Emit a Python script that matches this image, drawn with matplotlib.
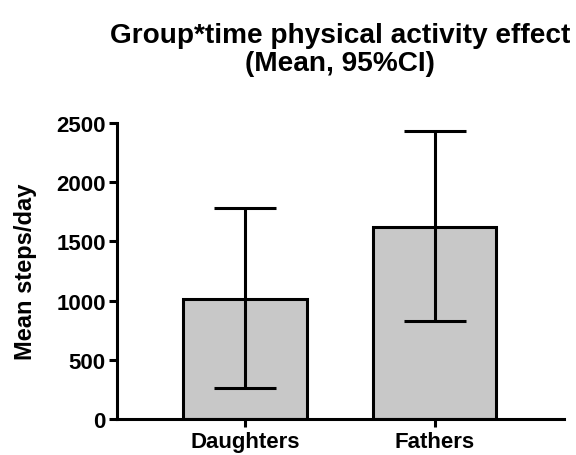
import matplotlib
matplotlib.use("Agg")
import matplotlib.pyplot as plt

# ============================================
# Data (mean and 95% CI bounds)
# ============================================

groups = ["Daughters", "Fathers"]
means = [1015, 1625]
ci_lower = [258, 825]
ci_upper = [1782, 2435]

yticks = [0, 500, 1000, 1500, 2000, 2500]

plt.rcParams["font.family"] = ["Liberation Sans", "DejaVu Sans"]
plt.rcParams["font.weight"] = "bold"

fig = plt.figure(figsize=(5.76, 4.56), dpi=100)
ax = fig.add_axes([0.203, 0.079, 0.776, 0.649])

x = list(range(len(groups)))
err_low = [m - lo for m, lo in zip(means, ci_lower)]
err_high = [hi - m for m, hi in zip(means, ci_upper)]

ax.bar(
    x, means, width=0.65,
    color="#c8c8c8", edgecolor="black", linewidth=2.2, zorder=2
)
ax.errorbar(
    x, means, yerr=[err_low, err_high], fmt="none",
    ecolor="black", elinewidth=2.2, capsize=22, capthick=2.2, zorder=3
)

ax.set_xlim(-0.674, 1.68)
ax.set_ylim(0, 2500)
ax.set_yticks(yticks)
ax.set_xticks(x)
ax.set_xticklabels(groups, fontsize=16, fontweight="bold")
ax.tick_params(axis="y", labelsize=16, width=2.2, length=6, pad=2)
ax.tick_params(axis="x", width=2.2, length=6, pad=3)
for lbl in ax.get_yticklabels():
    lbl.set_fontweight("bold")

for side in ["top", "right"]:
    ax.spines[side].set_visible(False)
for side in ["left", "bottom"]:
    ax.spines[side].set_linewidth(2.2)

ax.set_ylabel("Mean steps/day", fontsize=17, fontweight="bold", labelpad=14)

ax.set_title(
    "Group*time physical activity effect\n(Mean, 95%CI)",
    fontsize=20.2, fontweight="bold", linespacing=1.1, pad=38
)

plt.savefig("out.png", dpi=100)
plt.close()
